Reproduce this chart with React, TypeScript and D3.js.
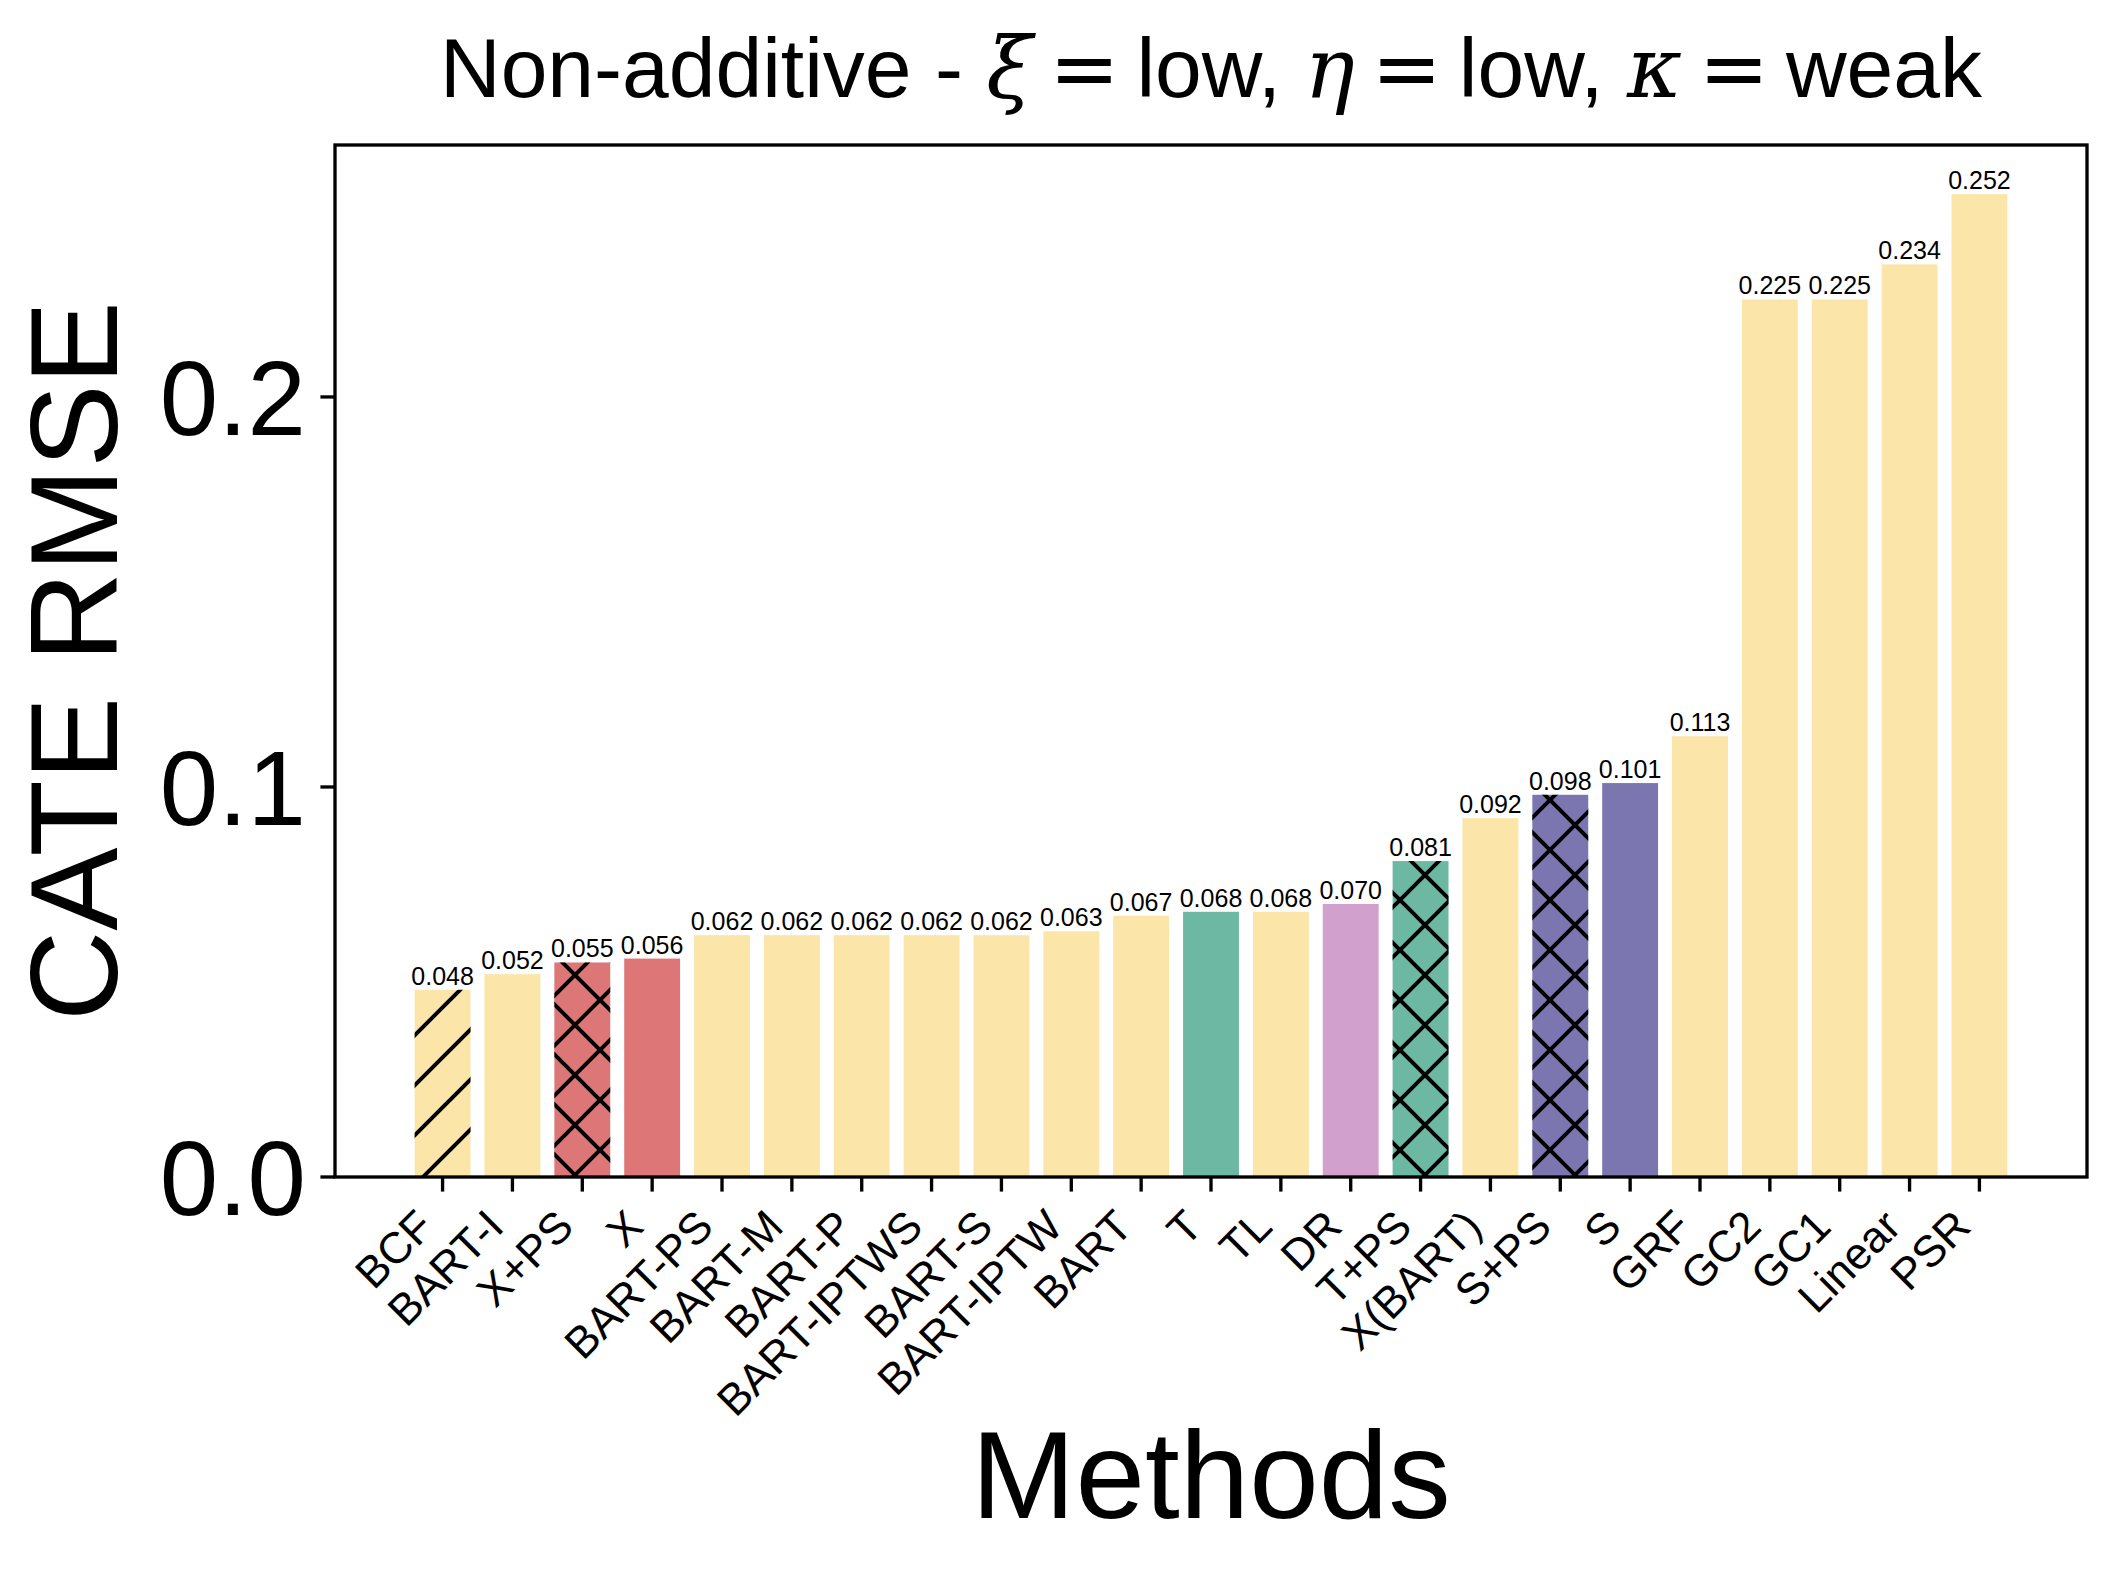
import React from 'react';
import * as d3 from 'd3';

// bars, in plotted order
const methods = [
  'BCF', 'BART-I', 'X+PS', 'X', 'BART-PS', 'BART-M', 'BART-P', 'BART-IPTWS',
  'BART-S', 'BART-IPTW', 'BART', 'T', 'TL', 'DR', 'T+PS', 'X(BART)', 'S+PS',
  'S', 'GRF', 'GC2', 'GC1', 'Linear', 'PSR',
];
const rmse = [
  0.048, 0.052, 0.055, 0.056, 0.062, 0.062, 0.062, 0.062,
  0.062, 0.063, 0.067, 0.068, 0.068, 0.070, 0.081, 0.092, 0.098,
  0.101, 0.113, 0.225, 0.225, 0.234, 0.252,
];
const groups = [
  'base', 'base', 'x', 'x', 'base', 'base', 'base', 'base',
  'base', 'base', 'base', 't', 'base', 'dr', 't', 'base', 's',
  's', 'base', 'base', 'base', 'base', 'base',
];
const hatches = [
  '/', '', 'x', '', '', '', '', '',
  '', '', '', '', '', '', 'x', '', 'x',
  '', '', '', '', '', '',
];
const yTicks = [0, 0.1, 0.2];

const groupColor: Record<string, string> = {
  base: '#fbe5a8',
  x: '#dd7777',
  t: '#6cb8a3',
  dr: '#d1a0cc',
  s: '#7b75b0',
};

const W = 2117, H = 1573;
const left = 335, right = 2087, top = 145, bottom = 1177;
const font = '"Liberation Sans", Arial, sans-serif';
const mathFont = '"DejaVu Serif", serif';
const pt = 300 / 72; // figure was saved at 300 dpi

const App: React.FC = () => {
  const n = methods.length;
  const pad = 0.05 * (n - 1 + 0.8);
  const x = d3.scaleLinear().domain([-0.4 - pad, n - 1 + 0.4 + pad]).range([left, right]);
  const yMax = d3.max(rmse)! * 1.05;
  const y = d3.scaleLinear().domain([0, yMax]).range([bottom, top]);
  const bw = x(0.8) - x(0);
  const tickLen = 3.5 * pt;
  const fmt = d3.format('.1f');

  const eq = <tspan fontFamily='"DejaVu Sans", sans-serif'>{'\u2009=\u2009'}</tspan>;

  return (
    <svg width={W} height={H} style={{ position: 'absolute', left: 0, top: 0, background: '#fff' }}>
      <defs>
        <pattern id="h-slash" patternUnits="userSpaceOnUse" width={50} height={50}>
          <path d="M-5,5L5,-5M0,50L50,0M45,55L55,45" stroke="#000" strokeWidth={4} fill="none" />
        </pattern>
        <pattern id="h-x" patternUnits="userSpaceOnUse" width={50} height={50}>
          <path d="M-5,5L5,-5M0,50L50,0M45,55L55,45M0,0L50,50M-5,45L5,55M45,-5L55,5"
            stroke="#000" strokeWidth={4} fill="none" />
        </pattern>
      </defs>
      <rect width={W} height={H} fill="#fff" />

      {/* bars */}
      {methods.map((m, i) => {
        const x0 = x(i) - bw / 2;
        const y0 = y(rmse[i]);
        const h = bottom - y0;
        return (
          <g key={m}>
            <rect x={x0} y={y0} width={bw} height={h} fill={groupColor[groups[i]]} />
            {hatches[i] && (
              <rect x={x0} y={y0} width={bw} height={h}
                fill={hatches[i] === '/' ? 'url(#h-slash)' : 'url(#h-x)'} />
            )}
            <text x={x(i)} y={y0 - 5} textAnchor="middle" fontSize={25} fontFamily={font}>
              {rmse[i].toFixed(3)}
            </text>
          </g>
        );
      })}

      {/* frame */}
      <rect x={left} y={top} width={right - left} height={bottom - top}
        fill="none" stroke="#000" strokeWidth={0.8 * pt} />

      {/* y axis */}
      {yTicks.map((t) => (
        <g key={t}>
          <line x1={left - tickLen} x2={left} y1={y(t)} y2={y(t)} stroke="#000" strokeWidth={0.8 * pt} />
          <text x={left - 2 * tickLen} y={y(t)} dy="0.358em" textAnchor="end" fontSize={105} fontFamily={font}>
            {fmt(t)}
          </text>
        </g>
      ))}

      {/* x axis */}
      {methods.map((m, i) => {
        const ax = x(i) - 0.707 * 0.21 * 44;
        const ay = bottom + 2 * tickLen + 0.707 * 0.73 * 44;
        return (
          <g key={m}>
            <line x1={x(i)} x2={x(i)} y1={bottom} y2={bottom + tickLen} stroke="#000" strokeWidth={0.8 * pt} />
            <text transform={`translate(${ax},${ay}) rotate(-45)`} textAnchor="end" fontSize={44} fontFamily={font}>
              {m}
            </text>
          </g>
        );
      })}

      {/* labels */}
      <text x={(left + right) / 2} y={1518} textAnchor="middle" fontSize={125} fontFamily={font}>Methods</text>
      <text transform={`translate(117,${(top + bottom) / 2}) rotate(-90)`} textAnchor="middle"
        fontSize={125} fontFamily={font}>CATE RMSE</text>

      <text x={(left + right) / 2} y={97} textAnchor="middle" fontSize={84} fontFamily={font}
        style={{ whiteSpace: 'pre' }}>
        {'Non-additive - '}
        <tspan fontFamily={mathFont} fontStyle="italic">ξ</tspan>
        {eq}
        {'low, '}
        <tspan fontFamily={mathFont} fontStyle="italic">η</tspan>
        {eq}
        {'low, '}
        <tspan fontFamily={mathFont} fontStyle="italic">κ</tspan>
        {eq}
        {'weak'}
      </text>
    </svg>
  );
};

export default App;
